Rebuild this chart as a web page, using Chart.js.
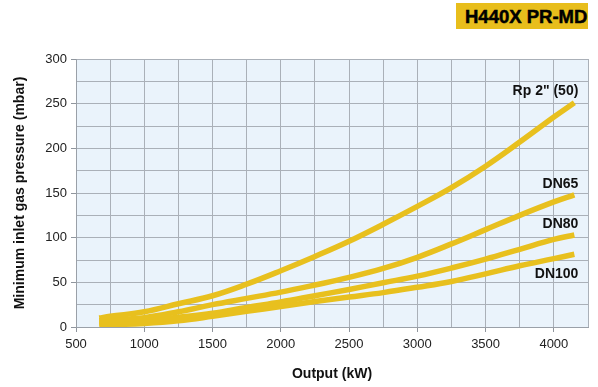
<!DOCTYPE html>
<html lang="en">
<head>
<meta charset="UTF-8">
<title>H440X PR-MD</title>
<script src="https://cdn.jsdelivr.net/npm/chart.js"></script>
<style>
  body { margin: 0; background: #fff; font-family: "Liberation Sans", Arial, sans-serif; }
  #wrap { position: relative; width: 598px; height: 387px; }
  #badge {
    position: absolute; left: 456px; top: 3px; width: 132px; height: 26px;
    background: #e8be1c; color: #000; font-weight: bold; font-size: 18.5px;
    line-height: 27px; padding-left: 9px; box-sizing: border-box;
    -webkit-text-stroke: 0.5px #000; white-space: nowrap;
  }
</style>
</head>
<body>
<div id="wrap">
  <canvas id="chart"></canvas>
  <div id="badge">H440X PR-MD</div>
</div>
<script>
// data
const output = [670, 750, 1000, 1250, 1500, 1750, 2000, 2250, 2500, 2750, 3000, 3250, 3500, 3750, 4000, 4150];
const rp2 = [10, 12, 17, 26, 35, 48, 63, 79, 96, 115, 135, 156, 180, 207, 235, 251];
const dn65 = [7, 8, 10.5, 17, 25, 32, 39, 47, 55.5, 65.5, 78, 93, 109, 125, 140, 148];
const dn80 = [4.5, 5, 7, 11, 15.5, 22, 28, 35, 42, 49.5, 57, 66, 76, 87, 98, 103];
const dn100 = [2, 2.5, 4, 7, 12, 17.5, 23, 28.5, 33.5, 38.5, 44.5, 51, 59.5, 68.5, 76.5, 81.5];
const seriesNames = ['Rp 2" (50)', 'DN65', 'DN80', 'DN100'];

const yellow = '#e8c01e';
const gridCol = '#aab0b8';

const toPts = arr => arr.map((v, i) => ({ x: output[i], y: v }));

// light blue plot background
const plotBg = {
  id: 'plotBg',
  beforeDraw(chart) {
    const a = chart.chartArea, c = chart.ctx;
    c.save();
    c.fillStyle = '#eaf3fb';
    c.fillRect(a.left, a.top, a.right - a.left, a.bottom - a.top);
    c.restore();
  }
};

// names at the end of each curve
const endLabels = {
  id: 'endLabels',
  afterDatasetsDraw(chart) {
    const c = chart.ctx;
    const dy = [-12, -11, -11, 20];
    c.save();
    c.font = 'bold 14px "Liberation Sans", Arial, sans-serif';
    c.fillStyle = '#111';
    c.textAlign = 'right';
    c.textBaseline = 'middle';
    chart.data.datasets.forEach((ds, i) => {
      const pts = chart.getDatasetMeta(i).data;
      const last = pts[pts.length - 1];
      c.fillText(ds.label, last.x + 4, last.y + dy[i]);
    });
    c.restore();
  }
};

new Chart(document.getElementById('chart'), {
  type: 'line',
  data: {
    datasets: [rp2, dn65, dn80, dn100].map((arr, i) => ({
      label: seriesNames[i],
      data: toPts(arr),
      borderColor: yellow,
      borderWidth: 5.5,
      pointRadius: 0,
      tension: 0.4,
      fill: false
    }))
  },
  options: {
    responsive: true,
    maintainAspectRatio: false,
    animation: false,
    layout: { padding: { top: 59, right: 10, left: 0, bottom: 0 } },
    plugins: { legend: { display: false }, tooltip: { enabled: false } },
    scales: {
      x: {
        type: 'linear',
        min: 500,
        max: 4250,
        afterFit: s => { s.height = 60; },
        ticks: {
          stepSize: 250,
          autoSkip: false,
          maxRotation: 0,
          padding: 5,
          color: '#222',
          font: { family: '"Liberation Sans", Arial, sans-serif', size: 13 },
          callback: v => (v % 500 === 0 && v <= 4000) ? v : ''
        },
        grid: {
          color: gridCol,
          tickLength: 5,
          tickColor: ctx => (ctx.tick && ctx.tick.value % 500 === 0 && ctx.tick.value <= 4000) ? '#8f959d' : 'rgba(0,0,0,0)'
        },
        border: { color: '#9aa0a8' },
        title: {
          display: true,
          text: 'Output (kW)',
          color: '#111',
          padding: { top: 0, bottom: 4 },
          font: { family: '"Liberation Sans", Arial, sans-serif', size: 14, weight: 'bold' }
        }
      },
      y: {
        min: 0,
        max: 300,
        afterFit: s => { s.width = 76; },
        ticks: {
          stepSize: 25,
          padding: 4,
          color: '#222',
          font: { family: '"Liberation Sans", Arial, sans-serif', size: 13 },
          callback: v => v % 50 === 0 ? v : ''
        },
        grid: {
          color: gridCol,
          tickLength: 5,
          tickColor: ctx => (ctx.tick && ctx.tick.value % 50 === 0) ? '#8f959d' : 'rgba(0,0,0,0)'
        },
        border: { color: '#9aa0a8' },
        title: {
          display: true,
          text: 'Minimum inlet gas pressure (mbar)',
          color: '#111',
          padding: { top: 12, bottom: 0 },
          font: { family: '"Liberation Sans", Arial, sans-serif', size: 14, weight: 'bold' }
        }
      }
    }
  },
  plugins: [plotBg, endLabels]
});
</script>
</body>
</html>
